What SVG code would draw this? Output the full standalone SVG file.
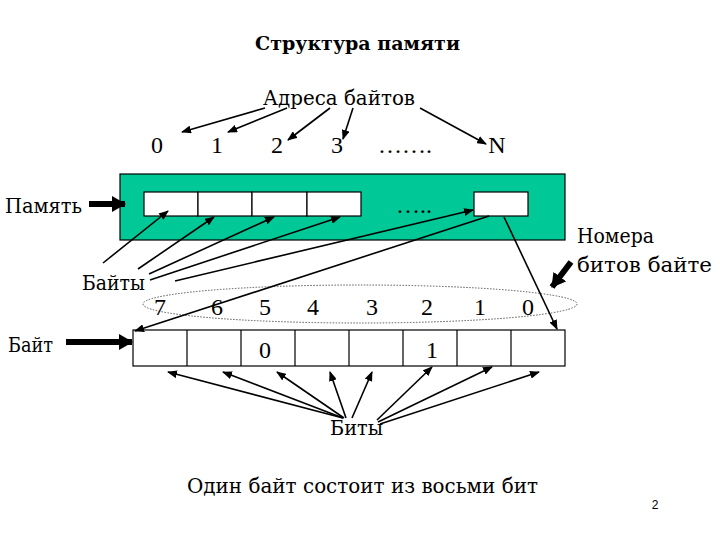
<svg xmlns="http://www.w3.org/2000/svg" width="720" height="540" viewBox="0 0 720 540">
<style>
text{font-family:"Liberation Serif","DejaVu Serif",serif;fill:#000}
.t24{font-size:24px}
.cy{font-family:"DejaVu Serif","Liberation Serif",serif;font-size:21px}
.ln{stroke:#000;stroke-width:1.6;fill:none;marker-end:url(#ah)}
.thick{stroke:#000;stroke-width:6;fill:none;marker-end:url(#big)}
.cell{fill:#fff;stroke:#000;stroke-width:1.2}
</style>
<defs>
<marker id="ah" markerUnits="userSpaceOnUse" markerWidth="10" markerHeight="8" refX="9" refY="4" orient="auto">
<path d="M0,0 L10,4 L0,8 z" fill="#000"/>
</marker>
<marker id="big" markerUnits="userSpaceOnUse" markerWidth="14" markerHeight="16" refX="13" refY="8" orient="auto">
<path d="M0,0 L14,8 L0,16 z" fill="#000"/>
</marker>
</defs>
<rect width="720" height="540" fill="#fff"/>
<g id="title"><text class="cy" x="255" y="50" font-weight="bold" style="font-size:19px" textLength="205" lengthAdjust="spacingAndGlyphs">Структура памяти</text></g>
<g id="addresses">
<text class="cy" x="263" y="105" textLength="152" lengthAdjust="spacingAndGlyphs">Адреса байтов</text>
<text class="t24" x="157" y="153" text-anchor="middle">0</text>
<text class="t24" x="217" y="153" text-anchor="middle">1</text>
<text class="t24" x="277" y="153" text-anchor="middle">2</text>
<text class="t24" x="337" y="153" text-anchor="middle">3</text>
<text class="t24" x="378" y="153">…….</text>
<text class="t24" x="497" y="153" text-anchor="middle">N</text>
</g>
<g id="memory">
<rect x="120" y="174" width="445" height="66" fill="#00c896" stroke="#000" stroke-width="1.2"/>
<rect class="cell" x="144" y="192" width="54" height="24"/>
<rect class="cell" x="198" y="192" width="54" height="24"/>
<rect class="cell" x="252" y="192" width="55" height="24"/>
<rect class="cell" x="307" y="192" width="54" height="24"/>
<rect class="cell" x="474" y="192" width="54" height="24"/>
<text class="t24" x="396" y="213">…..</text>
</g>
<g id="label-memory"><text class="cy" x="5" y="213" textLength="77" lengthAdjust="spacingAndGlyphs">Память</text></g>
<g id="label-bytes"><text class="cy" x="82" y="290" textLength="63" lengthAdjust="spacingAndGlyphs">Байты</text></g>
<g id="label-byte"><text class="cy" x="8" y="352" textLength="45" lengthAdjust="spacingAndGlyphs">Байт</text></g>
<g id="label-bitnums"><text class="cy" x="577" y="243" textLength="77" lengthAdjust="spacingAndGlyphs">Номера</text><text class="cy" x="577" y="272" textLength="135" lengthAdjust="spacingAndGlyphs">битов байте</text></g>
<g id="bitnumbers">
<ellipse cx="360" cy="304" rx="217" ry="19" fill="none" stroke="#555" stroke-width="1" stroke-dasharray="1.5,1.5"/>
<text class="t24" x="160" y="315" text-anchor="middle">7</text>
<text class="t24" x="217" y="315" text-anchor="middle">6</text>
<text class="t24" x="265" y="315" text-anchor="middle">5</text>
<text class="t24" x="313" y="315" text-anchor="middle">4</text>
<text class="t24" x="372" y="315" text-anchor="middle">3</text>
<text class="t24" x="427" y="315" text-anchor="middle">2</text>
<text class="t24" x="480" y="315" text-anchor="middle">1</text>
<text class="t24" x="528" y="315" text-anchor="middle">0</text>
</g>
<g id="byte">
<rect class="cell" x="133" y="330" width="432" height="36"/>
<path d="M187,330V366M241,330V366M295,330V366M349,330V366M403,330V366M457,330V366M511,330V366" stroke="#000" stroke-width="1.2"/>
<text class="t24" x="265" y="358" text-anchor="middle">0</text>
<text class="t24" x="432" y="358" text-anchor="middle">1</text>
</g>
<g id="label-bits"><text class="cy" x="330" y="435" textLength="53" lengthAdjust="spacingAndGlyphs">Биты</text></g>
<g id="caption"><text class="cy" x="187" y="493" textLength="351" lengthAdjust="spacingAndGlyphs">Один байт состоит из восьми бит</text></g>
<g id="page"><text x="655" y="509" font-size="12" text-anchor="middle" style="font-family:'Liberation Sans',Arial,sans-serif">2</text></g>
<g id="connectors">
<line class="ln" x1="265" y1="108" x2="182" y2="132"/>
<line class="ln" x1="287" y1="108" x2="228" y2="132"/>
<line class="ln" x1="330" y1="108" x2="288" y2="140"/>
<line class="ln" x1="353" y1="108" x2="343" y2="139"/>
<line class="ln" x1="420" y1="108" x2="486" y2="144"/>
<line class="thick" x1="89" y1="204" x2="125" y2="204"/>
<line class="thick" x1="66" y1="342" x2="132" y2="342"/>
<line class="thick" x1="571" y1="262" x2="552" y2="287"/>
<line class="ln" x1="103" y1="263" x2="168" y2="211"/>
<line class="ln" x1="138" y1="269" x2="214" y2="217"/>
<line class="ln" x1="149" y1="274" x2="274" y2="217"/>
<line class="ln" x1="150" y1="280" x2="340" y2="217"/>
<line class="ln" x1="175" y1="281" x2="473" y2="210"/>
<line class="ln" x1="489" y1="216" x2="135" y2="331"/>
<line class="ln" x1="504" y1="217" x2="557" y2="329"/>
<line class="ln" x1="343" y1="418" x2="168" y2="372"/>
<line class="ln" x1="343" y1="418" x2="223" y2="372"/>
<line class="ln" x1="344" y1="418" x2="277" y2="372"/>
<line class="ln" x1="346" y1="418" x2="330" y2="372"/>
<line class="ln" x1="352" y1="418" x2="372" y2="372"/>
<line class="ln" x1="377" y1="420" x2="432" y2="367"/>
<line class="ln" x1="378" y1="422" x2="492" y2="367"/>
<line class="ln" x1="380" y1="424" x2="539" y2="372"/>
</g>
</svg>
